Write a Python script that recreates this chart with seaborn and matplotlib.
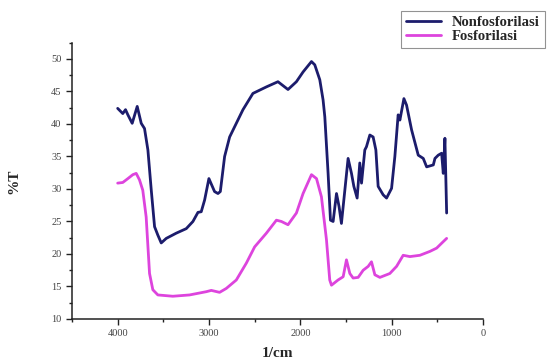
import numpy as np
import pandas as pd
import matplotlib
matplotlib.use("Agg")
import matplotlib.pyplot as plt
import seaborn as sns
from matplotlib.ticker import MultipleLocator
from matplotlib.lines import Line2D

wn_non = [4000, 3944, 3914, 3888, 3841, 3786, 3742, 3706, 3669, 3632, 3596, 3560, 3523, 3468,
          3359, 3249, 3176, 3121, 3085, 3048, 3001, 2939, 2902, 2876, 2829, 2774, 2701, 2628,
          2519, 2372, 2245, 2135, 2043, 1970, 1878, 1842, 1787, 1751, 1732, 1696, 1670, 1641,
          1604, 1576, 1550, 1477, 1440, 1414, 1378, 1349, 1330, 1294, 1276, 1239, 1203, 1173,
          1148, 1093, 1056, 1001, 965, 929, 910, 866, 837, 782, 709, 654, 617, 544, 526, 490,
          453, 435, 417, 398]
t_non = [42.4, 41.6, 42.2, 41.4, 40.1, 42.7, 40.1, 39.3, 36.0, 29.8, 24.2, 22.9, 21.7, 22.4,
         23.2, 23.9, 25.0, 26.4, 26.5, 28.3, 31.6, 29.6, 29.3, 29.6, 35.0, 38.0, 40.1, 42.2,
         44.7, 45.7, 46.5, 45.3, 46.5, 48.0, 49.6, 49.1, 46.8, 43.7, 41.1, 32.4, 25.2, 25.0,
         29.3, 27.3, 24.7, 34.7, 32.4, 30.4, 28.6, 34.0, 30.9, 36.0, 36.5, 38.3, 38.0, 36.0,
         30.4, 29.1, 28.6, 30.1, 35.0, 41.4, 40.6, 43.9, 42.9, 39.1, 35.2, 34.7, 33.4, 33.7,
         34.7, 35.2, 35.5, 32.4, 37.8, 26.3]

wn_fos = [4000, 3944, 3888, 3834, 3797, 3761, 3725, 3688, 3651, 3615, 3560, 3396, 3213, 3030,
          2975, 2884, 2811, 2701, 2591, 2500, 2372, 2262, 2207, 2135, 2043, 1970, 1878, 1823,
          1769, 1714, 1678, 1659, 1587, 1531, 1495, 1458, 1422, 1367, 1312, 1257, 1221, 1184,
          1129, 1020, 946, 874, 800, 691, 581, 508, 435, 398]
t_fos = [30.9, 31.0, 31.6, 32.2, 32.4, 31.4, 29.8, 25.7, 17.0, 14.5, 13.7, 13.5, 13.7, 14.2,
         14.4, 14.1, 14.7, 16.0, 18.6, 21.1, 23.2, 25.2, 25.0, 24.5, 26.3, 29.3, 32.2, 31.6,
         28.8, 22.2, 16.0, 15.2, 16.0, 16.5, 19.1, 17.0, 16.3, 16.4, 17.5, 18.1, 18.8, 16.8,
         16.4, 17.0, 18.1, 19.8, 19.6, 19.8, 20.4, 20.9, 21.9, 22.4]

labels = ["Nonfosforilasi", "Fosforilasi"]
colors = ["#1c1c6c", "#dd44dd"]

df = pd.concat([
    pd.DataFrame({"wn": wn_non, "T": t_non, "s": labels[0]}),
    pd.DataFrame({"wn": wn_fos, "T": t_fos, "s": labels[1]}),
])

sns.set_style("ticks")
plt.rcParams["font.family"] = ["Liberation Serif", "DejaVu Serif"]

fig = plt.figure(figsize=(5.58, 3.60), dpi=100)
ax = fig.add_axes([72/558, 1-319/360, (483-72)/558, (319-42.7)/360])

sns.lineplot(data=df, x="wn", y="T", hue="s", palette=dict(zip(labels, colors)),
             sort=False, estimator=None, units="s", linewidth=2.0, ax=ax, legend=False)

ax.set_xlim(4500, 0)
ax.set_ylim(10, 52.5)
ax.xaxis.set_major_locator(MultipleLocator(1000))
ax.xaxis.set_minor_locator(MultipleLocator(500))
ax.yaxis.set_major_locator(MultipleLocator(5))
ax.yaxis.set_minor_locator(MultipleLocator(2.5))
ax.tick_params(which="major", direction="out", length=4, width=1, labelsize=7.5,
               colors="#222222", labelcolor="#444444")
ax.tick_params(which="minor", direction="out", length=2.5, width=1, colors="#222222")
for s in ["top", "right"]:
    ax.spines[s].set_visible(False)
for s in ["left", "bottom"]:
    ax.spines[s].set_linewidth(1.1)
    ax.spines[s].set_color("#222222")

ax.set_xlabel("1/cm", fontsize=11, fontweight="bold", labelpad=6)
ax.set_ylabel("%T", fontsize=11, fontweight="bold", labelpad=22)

handles = [Line2D([], [], color=c, lw=2) for c in colors]
leg = fig.legend(handles, labels, loc="upper left", bbox_to_anchor=(401/558, 1-11/360),
                 bbox_transform=fig.transFigure, prop={"weight": "bold", "size": 10.5},
                 frameon=True, fancybox=False, borderaxespad=0, handlelength=2.4,
                 labelspacing=0.05, borderpad=0.35, handletextpad=0.75)
leg.get_frame().set_edgecolor("#777777")
leg.get_frame().set_linewidth(0.8)

fig.savefig("out.png", dpi=100)
